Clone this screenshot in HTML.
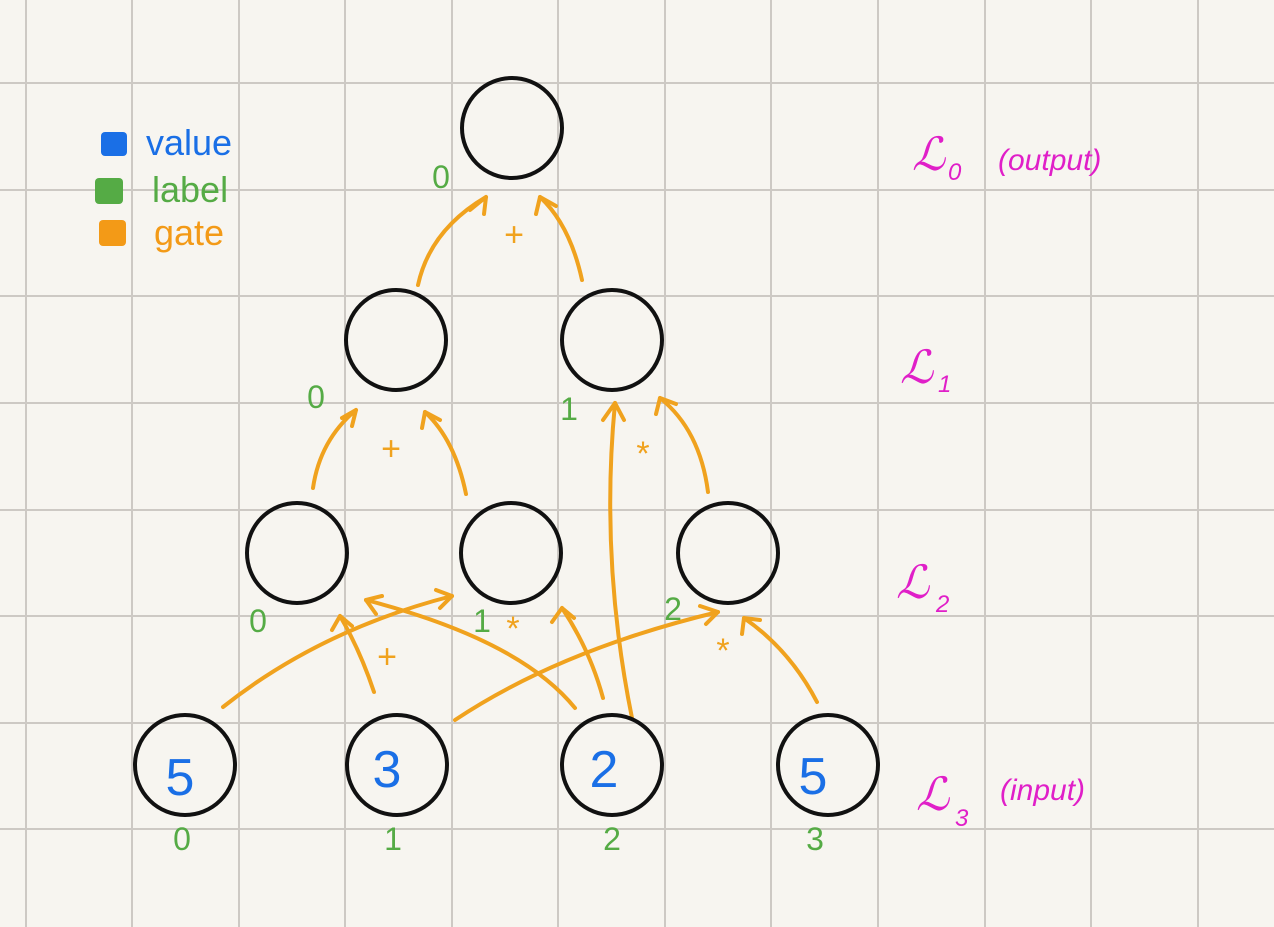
<!DOCTYPE html>
<html><head><meta charset="utf-8"><style>
html,body{margin:0;padding:0;background:#f7f5f0;}
svg{display:block}
text{font-family:"Liberation Sans",sans-serif;}
</style></head><body>
<svg width="1274" height="927" viewBox="0 0 1274 927" xmlns="http://www.w3.org/2000/svg">
<rect width="1274" height="927" fill="#f7f5f0"/>
<g stroke="#cdc9c4" stroke-width="2">
<line x1="26" y1="0" x2="26" y2="927"/><line x1="132" y1="0" x2="132" y2="927"/><line x1="239" y1="0" x2="239" y2="927"/><line x1="345" y1="0" x2="345" y2="927"/><line x1="452" y1="0" x2="452" y2="927"/><line x1="558" y1="0" x2="558" y2="927"/><line x1="665" y1="0" x2="665" y2="927"/><line x1="771" y1="0" x2="771" y2="927"/><line x1="878" y1="0" x2="878" y2="927"/><line x1="985" y1="0" x2="985" y2="927"/><line x1="1091" y1="0" x2="1091" y2="927"/><line x1="1198" y1="0" x2="1198" y2="927"/>
<line x1="0" y1="83" x2="1274" y2="83"/><line x1="0" y1="190" x2="1274" y2="190"/><line x1="0" y1="296" x2="1274" y2="296"/><line x1="0" y1="403" x2="1274" y2="403"/><line x1="0" y1="510" x2="1274" y2="510"/><line x1="0" y1="616" x2="1274" y2="616"/><line x1="0" y1="723" x2="1274" y2="723"/><line x1="0" y1="829" x2="1274" y2="829"/>
</g>
<!-- legend -->
<rect x="101" y="132" width="26" height="24" rx="4" fill="#1a6fe6"/>
<rect x="95" y="178" width="28" height="26" rx="4" fill="#55ab45"/>
<rect x="99" y="220" width="27" height="26" rx="4" fill="#f39a17"/>
<text x="146" y="155" font-size="36" fill="#1a6fe6">value</text>
<text x="152" y="202" font-size="36" fill="#55ab45">label</text>
<text x="154" y="245" font-size="36" fill="#f39a17">gate</text>
<!-- arrows -->
<g fill="none" stroke="#f0a21e" stroke-width="4" stroke-linecap="round" stroke-linejoin="round">
<path d="M418 285 Q430 230 486 197"/><path d="M470 210 L486 197 L484 214"/>
<path d="M582 280 Q570 225 540 197"/><path d="M536 214 L540 197 L556 206"/>
<path d="M313 488 Q320 440 356 410"/><path d="M342 418 L356 410 L352 426"/>
<path d="M466 494 Q455 440 425 412"/><path d="M422 428 L425 412 L440 420"/>
<path d="M708 492 Q700 430 660 398"/><path d="M656 414 L660 398 L676 404"/>
<path d="M632 718 Q600 560 615 403"/><path d="M603 420 L615 403 L624 420"/>
<path d="M223 707 Q320 630 452 596"/><path d="M436 590 L452 596 L440 608"/>
<path d="M374 692 Q360 650 340 616"/><path d="M332 630 L340 616 L352 626"/>
<path d="M575 708 Q520 640 366 600"/><path d="M382 596 L366 600 L376 614"/>
<path d="M603 698 Q590 650 562 608"/><path d="M552 622 L562 608 L574 618"/>
<path d="M455 720 Q560 650 718 612"/><path d="M700 606 L718 612 L706 624"/>
<path d="M817 702 Q790 650 744 618"/><path d="M742 634 L744 618 L760 620"/>
</g>
<g fill="#f0a21e" font-size="34" text-anchor="middle">
<text x="514" y="246">+</text><text x="391" y="460">+</text><text x="643" y="465">*</text>
<text x="387" y="668">+</text><text x="513" y="640">*</text><text x="723" y="662">*</text>
</g>
<!-- circles -->
<g fill="none" stroke="#111" stroke-width="4">
<circle cx="512" cy="128" r="50"/>
<circle cx="396" cy="340" r="50"/><circle cx="612" cy="340" r="50"/>
<circle cx="297" cy="553" r="50"/><circle cx="511" cy="553" r="50"/><circle cx="728" cy="553" r="50"/>
<circle cx="185" cy="765" r="50"/><circle cx="397" cy="765" r="50"/><circle cx="612" cy="765" r="50"/><circle cx="828" cy="765" r="50"/>
</g>
<g fill="#1a6fe6" font-size="52" text-anchor="middle">
<text x="180" y="795">5</text><text x="387" y="787">3</text><text x="604" y="787">2</text><text x="813" y="794">5</text>
</g>
<g fill="#55ab45" font-size="32" text-anchor="middle">
<text x="441" y="188">0</text><text x="316" y="408">0</text><text x="569" y="420">1</text>
<text x="258" y="632">0</text><text x="482" y="632">1</text><text x="673" y="620">2</text>
<text x="182" y="850">0</text><text x="393" y="850">1</text><text x="612" y="850">2</text><text x="815" y="850">3</text>
</g>
<g fill="#e01fc8" font-style="italic">
<text x="912" y="170" font-size="46">ℒ</text><text x="948" y="180" font-size="24">0</text><text x="998" y="170" font-size="30">(output)</text>
<text x="900" y="383" font-size="46">ℒ</text><text x="938" y="392" font-size="24">1</text>
<text x="896" y="598" font-size="46">ℒ</text><text x="936" y="612" font-size="24">2</text>
<text x="916" y="810" font-size="46">ℒ</text><text x="955" y="826" font-size="24">3</text><text x="1000" y="800" font-size="30">(input)</text>
</g>
</svg>
</body></html>
